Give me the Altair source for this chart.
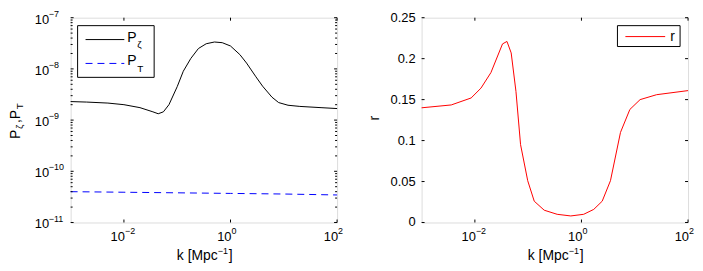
import altair as alt
import pandas as pd

# ---------------- data ----------------
pz_k = [1e-3, 2e-3, 5e-3, 1e-2, 2e-2, 3.5e-2, 4.4e-2, 5.5e-2, 7e-2, 1e-1, 1.3e-1,
        1.8e-1, 2.5e-1, 3.5e-1, 5e-1, 7e-1, 1.0, 1.5, 2.0, 3.0, 4.0, 6.0, 8.0, 12, 20, 50, 100]
pz_v = [2.3e-9, 2.25e-9, 2.15e-9, 2.0e-9, 1.75e-9, 1.45e-9, 1.33e-9, 1.45e-9, 2.0e-9, 4.5e-9,
        9.0e-9, 1.6e-8, 2.5e-8, 3.1e-8, 3.35e-8, 3.25e-8, 2.8e-8, 1.9e-8, 1.3e-8, 7.0e-9,
        4.6e-9, 2.8e-9, 2.2e-9, 1.95e-9, 1.85e-9, 1.75e-9, 1.68e-9]

pt_k = [1e-3, 1e-2, 1e-1, 1.0, 10, 100]
pt_v = [4.0e-11, 3.9e-11, 3.8e-11, 3.7e-11, 3.6e-11, 3.45e-11]

r_k = [1e-3, 3.6e-3, 8.5e-3, 1.3e-2, 2e-2, 3.3e-2, 4e-2, 4.8e-2, 5.9e-2, 7.2e-2, 9.8e-2,
       1.3e-1, 2e-1, 3.5e-1, 6.3e-1, 1.1, 1.7, 2.45, 3.5, 5.4, 8.1, 12.6, 25.7, 100]
r_v = [0.140, 0.1435, 0.152, 0.164, 0.183, 0.218, 0.221, 0.207, 0.160, 0.095, 0.051,
       0.026, 0.015, 0.010, 0.008, 0.010, 0.016, 0.026, 0.051, 0.110, 0.138, 0.150, 0.156, 0.161]

x_tick_vals = [1e-2, 1.0, 1e2]
x_tick_exps = ["\u22122", "0", "2"]
yl_tick_vals = [1e-11, 1e-10, 1e-9, 1e-8, 1e-7]
yl_tick_exps = ["\u221211", "\u221210", "\u22129", "\u22128", "\u22127"]
yl_minor_vals = [m * d for d in [1e-11, 1e-10, 1e-9, 1e-8] for m in range(2, 10)]
yr_tick_vals = [0, 0.05, 0.1, 0.15, 0.2, 0.25]
yr_tick_text = ["0", "0.05", "0.1", "0.15", "0.2", "0.25"]

# ---------------- styling ----------------
F = "Liberation Sans"
W, H = 268, 206
TICK = 13
EXP = 9
TITLE = 14
SUB = 10
MAJ, MIN = 3, 2

one = pd.DataFrame({"a": [0]})
df_pz = pd.DataFrame({"k": pz_k, "v": pz_v})
df_pt = pd.DataFrame({"k": pt_k, "v": pt_v})
df_r = pd.DataFrame({"k": r_k, "v": r_v})
df_xt = pd.DataFrame({"k": x_tick_vals, "e": x_tick_exps})
df_ylt = pd.DataFrame({"v": yl_tick_vals, "e": yl_tick_exps})
df_ylm = pd.DataFrame({"v": yl_minor_vals})
df_yrt = pd.DataFrame({"v": yr_tick_vals, "t": yr_tick_text})

xs = alt.Scale(type="log", domain=[1e-3, 1e2], nice=False)
ysl = alt.Scale(type="log", domain=[1e-11, 1e-7], nice=False)
ysr = alt.Scale(domain=[0, 0.25], nice=False)


def X(field="k"):
    return alt.X(f"{field}:Q", scale=xs, axis=None)


def txt(t, x, y, size, angle=0, align="left", baseline="alphabetic", color="black"):
    return alt.Chart(one).mark_text(
        text=t, font=F, fontSize=size, angle=angle, align=align,
        baseline=baseline, color=color
    ).encode(x=alt.value(x), y=alt.value(y))


def seg(x1, x2, y, color="black", dash=None):
    kw = dict(color=color, strokeWidth=1)
    if dash:
        kw["strokeDash"] = dash
    return alt.Chart(one).mark_rule(**kw).encode(
        x=alt.value(x1), x2=alt.value(x2), y=alt.value(y))


def box(x1, y1, x2, y2):
    return alt.Chart(one).mark_rect(fill="white", stroke="black", strokeWidth=1).encode(
        x=alt.value(x1), x2=alt.value(x2), y=alt.value(y1), y2=alt.value(y2))


def x_axis_parts():
    parts = []
    parts.append(alt.Chart(df_xt).mark_rule(color="black").encode(
        x=X(), y=alt.value(H), y2=alt.value(H - MAJ)))
    parts.append(alt.Chart(df_xt).mark_rule(color="black").encode(
        x=X(), y=alt.value(0), y2=alt.value(MAJ)))
    parts.append(alt.Chart(df_xt).mark_text(
        font=F, fontSize=TICK, align="right", baseline="alphabetic", color="black", dx=1
    ).encode(x=X(), y=alt.value(H + 19), text=alt.value("10")))
    parts.append(alt.Chart(df_xt).mark_text(
        font=F, fontSize=EXP, align="left", baseline="alphabetic", color="black", dx=1
    ).encode(x=X(), y=alt.value(H + 12), text="e:N"))
    # x title  k [Mpc^-1]
    parts.append(txt("k [Mpc", 148, H + 38, TITLE, align="right"))
    parts.append(txt("\u22121", 148, H + 32, EXP))
    parts.append(txt("]", 159, H + 38, TITLE))
    return parts


# ---------------- left panel ----------------
ly = lambda f="v": alt.Y(f"{f}:Q", scale=ysl, axis=None)
left_layers = [
    alt.Chart(df_pz).mark_line(color="black", strokeWidth=1).encode(x=X(), y=ly()),
    alt.Chart(df_pt).mark_line(color="#0000ff", strokeWidth=1, strokeDash=[7, 5]).encode(x=X(), y=ly()),
    alt.Chart(df_ylt).mark_rule(color="black").encode(y=ly(), x=alt.value(0), x2=alt.value(MAJ)),
    alt.Chart(df_ylt).mark_rule(color="black").encode(y=ly(), x=alt.value(W), x2=alt.value(W - MAJ)),
    alt.Chart(df_ylm).mark_rule(color="black").encode(y=ly(), x=alt.value(0), x2=alt.value(MIN)),
    alt.Chart(df_ylm).mark_rule(color="black").encode(y=ly(), x=alt.value(W), x2=alt.value(W - MIN)),
    alt.Chart(df_ylt).mark_text(font=F, fontSize=TICK, align="left", baseline="middle",
                                color="black", dy=2).encode(
        y=ly(), x=alt.value(-36), text=alt.value("10")),
    alt.Chart(df_ylt).mark_text(font=F, fontSize=EXP, align="left", baseline="middle",
                                color="black", dy=-4).encode(
        y=ly(), x=alt.value(-22), text="e:N"),
] + x_axis_parts() + [
    # y title  P_zeta, P_T (rotated)
    txt("P", -51, 122, TITLE, angle=270),
    txt("\u03b6", -48, 112, SUB, angle=270),
    txt(",P", -51, 106, TITLE, angle=270),
    txt("T", -48, 92, SUB, angle=270),
    # legend
    box(7, 8, 84, 60),
    seg(15, 54, 22),
    txt("P", 57, 24, TITLE),
    txt("\u03b6", 67, 30, SUB),
    seg(15, 54, 46, color="#0000ff", dash=[7, 5]),
    txt("P", 57, 48, TITLE),
    txt("T", 67, 55, SUB),
]
left = alt.layer(*left_layers).properties(width=W, height=H)

# ---------------- right panel ----------------
ry = lambda f="v": alt.Y(f"{f}:Q", scale=ysr, axis=None)
right_layers = [
    alt.Chart(df_r).mark_line(color="#ff0000", strokeWidth=1).encode(x=X(), y=ry()),
    alt.Chart(df_yrt).mark_rule(color="black").encode(y=ry(), x=alt.value(0), x2=alt.value(MAJ)),
    alt.Chart(df_yrt).mark_rule(color="black").encode(y=ry(), x=alt.value(W), x2=alt.value(W - MAJ)),
    alt.Chart(df_yrt).mark_text(font=F, fontSize=TICK, align="right", baseline="middle",
                                color="black").encode(
        y=ry(), x=alt.value(-6), text="t:N"),
] + x_axis_parts() + [
    txt("r", -43, 101, TITLE, angle=270, align="center"),
    box(197, 8, 260, 29),
    seg(205, 245, 19, color="#ff0000"),
    txt("r", 250, 23, TITLE),
]
right = alt.layer(*right_layers).properties(width=W, height=H)

chart = alt.hconcat(left, right, spacing=85, bounds="flush").properties(
    padding={"left": 0, "top": 0, "right": 0, "bottom": 0}
).configure_view(stroke="black", strokeWidth=1).configure(background="white")

chart.save("out.html", embed_options={"renderer": "svg", "actions": False})
